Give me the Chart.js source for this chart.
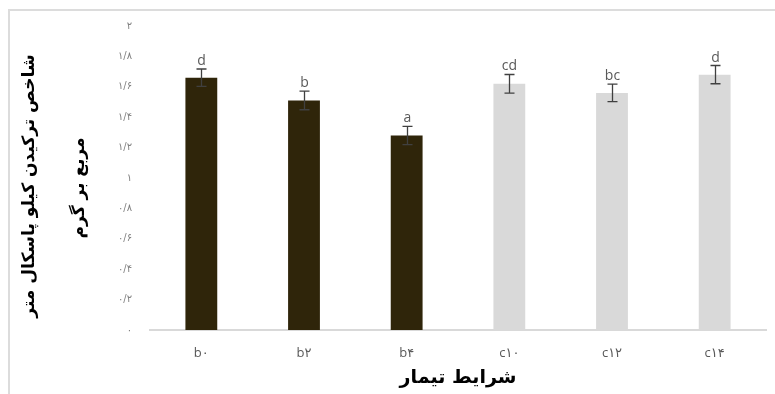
<!DOCTYPE html>
<html lang="fa">
<head>
<meta charset="utf-8">
<script src="https://cdn.jsdelivr.net/npm/chart.js@4/dist/chart.umd.min.js"></script>
<style>
  html, body { margin: 0; padding: 0; background: #fff; }
  #wrap { position: relative; width: 775px; height: 394px; overflow: hidden; }
  #frame {
    position: absolute; left: 8px; top: 9px; right: -10px; bottom: -10px;
    border-left: 2px solid #dcdcdc; border-top: 2px solid #dcdcdc;
  }
  #chart { position: absolute; left: 0; top: 0; }
</style>
</head>
<body>
<div id="wrap">
  <div id="frame"></div>
  <canvas id="chart" width="775" height="394"></canvas>
</div>
<script>
// داده‌ها
const categories = ['b۰', 'b۲', 'b۴', 'c۱۰', 'c۱۲', 'c۱۴'];
const values = [1.66, 1.51, 1.28, 1.62, 1.56, 1.68];
const errors = [0.057, 0.061, 0.06, 0.061, 0.057, 0.06];
const letters = ['d', 'b', 'a', 'cd', 'bc', 'd'];
const barColors = ['#2f250a', '#2f250a', '#2f250a', '#d9d9d9', '#d9d9d9', '#d9d9d9'];

const yTitle = ['شاخص ترکیدن کیلو پاسکال متر', 'مربع بر گرم'];
const xTitle = 'شرایط تیمار';

const faDigits = '۰۱۲۳۴۵۶۷۸۹';
function toFa(s) {
  return String(s).replace(/[0-9]/g, d => faDigits[d]);
}

// خطای استاندارد و حروف معنی‌داری روی ستون‌ها
const errorBarPlugin = {
  id: 'errorBars',
  afterDatasetsDraw(chart) {
    const { ctx, scales } = chart;
    const x = scales.x, y = scales.y;
    ctx.save();
    ctx.strokeStyle = '#404040';
    ctx.lineWidth = 1.3;
    ctx.fillStyle = '#595959';
    ctx.font = '14px "Open Sans", "DejaVu Sans", sans-serif';
    ctx.textAlign = 'center';
    ctx.textBaseline = 'bottom';
    values.forEach((v, i) => {
      const cx = Math.round(x.getPixelForValue(i)) + 0.5;
      const top = y.getPixelForValue(v + errors[i]);
      const bot = y.getPixelForValue(v - errors[i]);
      const cap = 5;
      ctx.beginPath();
      ctx.moveTo(cx, top); ctx.lineTo(cx, bot);
      ctx.moveTo(cx - cap, top); ctx.lineTo(cx + cap, top);
      ctx.moveTo(cx - cap, bot); ctx.lineTo(cx + cap, bot);
      ctx.stroke();
      ctx.fillText(letters[i], cx, top - 1);
    });
    ctx.restore();
  }
};

// عنوان دو خطی محور عمودی
const yTitlePlugin = {
  id: 'yTitle',
  afterDraw(chart) {
    const { ctx, chartArea } = chart;
    const mid = (chartArea.top + chartArea.bottom) / 2;
    const lines = [{ x: 30, y: mid + 8 }, { x: 80, y: mid + 10 }];
    ctx.save();
    ctx.fillStyle = '#000';
    ctx.font = 'bold 17px "DejaVu Sans", sans-serif';
    ctx.textAlign = 'center';
    ctx.textBaseline = 'middle';
    yTitle.forEach((t, i) => {
      ctx.save();
      ctx.translate(lines[i].x, lines[i].y);
      ctx.rotate(-Math.PI / 2);
      ctx.fillText(t, 0, 0);
      ctx.restore();
    });
    ctx.restore();
  }
};

const ctx = document.getElementById('chart').getContext('2d');
new Chart(ctx, {
  type: 'bar',
  data: {
    labels: categories,
    datasets: [{
      data: values,
      backgroundColor: barColors,
      borderWidth: 0,
      categoryPercentage: 0.62,
      barPercentage: 0.5,
    }]
  },
  options: {
    responsive: false,
    animation: false,
    layout: { padding: { left: 0, right: 9, top: 26, bottom: 0 } },
    plugins: {
      legend: { display: false },
      tooltip: { enabled: false },
    },
    scales: {
      x: {
        grid: { display: false, drawTicks: false },
        border: { display: true, color: '#d9d9d9', width: 2 },
        ticks: {
          color: '#595959',
          padding: 15,
          font: { family: '"Open Sans", "DejaVu Sans", sans-serif', size: 13 },
        },
        title: {
          display: true,
          text: xTitle,
          color: '#000',
          padding: { top: 0, bottom: 5 },
          font: { family: '"DejaVu Sans", sans-serif', size: 19, weight: 'bold' },
        },
        afterFit(scale) { scale.height = 64; },
      },
      y: {
        min: 0,
        max: 2,
        grid: { display: false, drawTicks: false },
        border: { display: false },
        ticks: {
          stepSize: 0.2,
          color: '#7f7f7f',
          padding: 18,
          font: { family: '"DejaVu Sans", sans-serif', size: 10 },
          callback: v => toFa((Math.round(v * 10) / 10).toString().replace('.', '/')),
        },
        afterFit(scale) { scale.width = 150; },
      }
    }
  },
  plugins: [errorBarPlugin, yTitlePlugin]
});
</script>
</body>
</html>
